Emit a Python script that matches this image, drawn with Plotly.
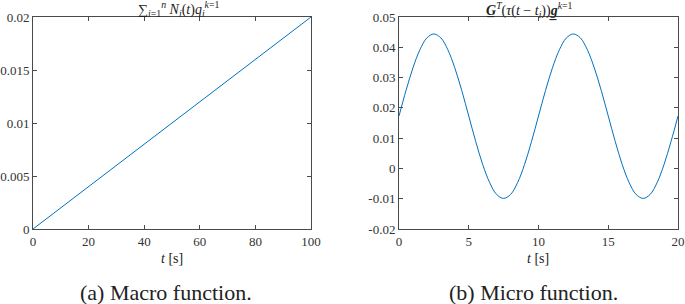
import plotly.graph_objects as go

# Macro function data
macro_t = [0, 100]
macro_y = [0.0, 0.02]

# Micro function data (every 0.5 s)
micro_t = [i * 0.5 for i in range(41)]
micro_y = [0.0173, 0.0257, 0.0332, 0.0392, 0.0431, 0.0444, 0.0431, 0.0392, 0.0332, 0.0257,
           0.0173, 0.0089, 0.0013, -0.0047, -0.0086, -0.0099, -0.0086, -0.0047, 0.0013, 0.0089,
           0.0173, 0.0257, 0.0332, 0.0392, 0.0431, 0.0444, 0.0431, 0.0392, 0.0332, 0.0257,
           0.0173, 0.0089, 0.0013, -0.0047, -0.0086, -0.0099, -0.0086, -0.0047, 0.0013, 0.0089,
           0.0173]

left_yticks = [0, 0.005, 0.01, 0.015, 0.02]
left_ylabels = ["0", "0.005", "0.01", "0.015", "0.02"]
left_xticks = [0, 20, 40, 60, 80, 100]
right_yticks = [-0.02, -0.01, 0, 0.01, 0.02, 0.03, 0.04, 0.05]
right_ylabels = ["-0.02", "-0.01", "0", "0.01", "0.02", "0.03", "0.04", "0.05"]
right_xticks = [0, 5, 10, 15, 20]

W, H = 685, 304
FONT = "Liberation Serif"
BLUE = "#0072BD"
AX = "#4a4a4a"
TXT = "#222222"

fig = go.Figure()
fig.add_trace(go.Scatter(x=macro_t, y=macro_y, mode="lines",
                         line=dict(color=BLUE, width=1), xaxis="x", yaxis="y", showlegend=False))
fig.add_trace(go.Scatter(x=micro_t, y=micro_y, mode="lines", line_shape="spline",
                         line=dict(color=BLUE, width=1), xaxis="x2", yaxis="y2", showlegend=False))

ydom = [(H - 229) / H, (H - 17) / H]
axcommon = dict(showgrid=False, zeroline=False, showline=True, linecolor=AX, linewidth=1,
                mirror="ticks", ticks="inside", ticklen=4, tickcolor=AX, automargin=False,
                tickfont=dict(family=FONT, size=13, color="#333333"))

fig.update_layout(
    width=W, height=H,
    margin=dict(l=0, r=0, t=0, b=0, pad=0),
    paper_bgcolor="white", plot_bgcolor="white",
    font=dict(family=FONT, color=TXT),
    xaxis=dict(domain=[33 / W, 311 / W], range=[0, 100], tickvals=left_xticks,
               anchor="y", **axcommon),
    yaxis=dict(domain=ydom, range=[0, 0.02], tickvals=left_yticks, ticktext=left_ylabels,
               anchor="x", **axcommon),
    xaxis2=dict(domain=[399 / W, 678 / W], range=[0, 20], tickvals=right_xticks,
                anchor="y2", **axcommon),
    yaxis2=dict(domain=ydom, range=[-0.02, 0.05], tickvals=right_yticks, ticktext=right_ylabels,
                anchor="x2", **axcommon),
)

ann = [
    dict(text="∑<sub><i>i</i>=1</sub><sup><i>n</i></sup> <i>N<sub>i</sub></i>(<i>t</i>)<i>q<sub>i</sub><sup>k</sup></i><sup>=1</sup>",
         x=178 / W, y=(H - 9) / H, size=14),
    dict(text="<b><i>G̲</i></b><sup><i>T</i></sup>(<i>τ</i>(<i>t</i> − <i>t<sub>i</sub></i>))<b><i>g̲</i></b><sup><i>k</i>=1</sup>",
         x=529 / W, y=(H - 10.5) / H, size=14),
    dict(text="<i>t</i> [s]", x=172 / W, y=(H - 258) / H, size=14),
    dict(text="<i>t</i> [s]", x=538 / W, y=(H - 258) / H, size=14),
    dict(text="(a) Macro function.", x=166 / W, y=(H - 292) / H, size=22),
    dict(text="(b) Micro function.", x=533 / W, y=(H - 292) / H, size=22),
]
for a in ann:
    fig.add_annotation(text=a["text"], x=a["x"], y=a["y"], xref="paper", yref="paper",
                       xanchor="center", yanchor="middle", showarrow=False,
                       font=dict(family=FONT, size=a["size"], color=TXT))

fig.write_html("out.html", config={"displayModeBar": False},
               post_script="document.body.style.margin='0';document.body.style.overflow='hidden';")
